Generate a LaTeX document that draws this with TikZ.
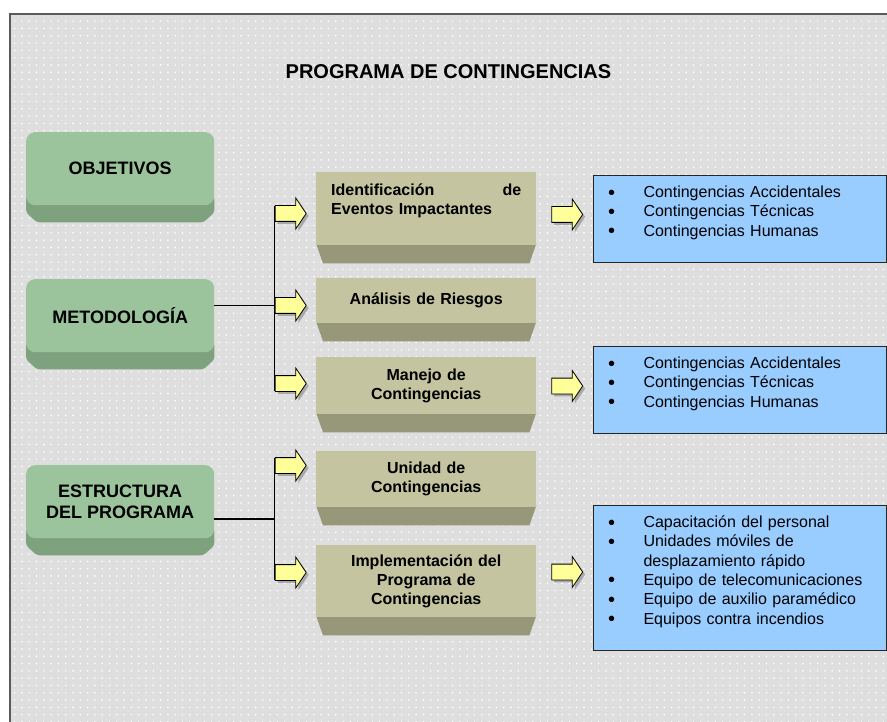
\documentclass[tikz,border=0pt]{standalone}
\usepackage{fontspec}
\setmainfont{Liberation Sans}
\usetikzlibrary{shapes.arrows,shadows,calc,backgrounds,patterns.meta}
\definecolor{greenface}{HTML}{9CC49C}
\definecolor{greenside}{HTML}{7EA27E}
\definecolor{tanface}{HTML}{C4C4A0}
\definecolor{tanside}{HTML}{979779}
\definecolor{arrowyellow}{HTML}{FFFF99}
\definecolor{listblue}{HTML}{99CCFF}
\definecolor{backgray}{HTML}{DEDEDE}
\definecolor{framegray}{HTML}{5A5A5A}
\tikzset{
  topic/.style={rectangle,rounded corners=9pt,fill=greenface,minimum width=188pt,minimum height=73pt,anchor=north west,align=center,font=\fontsize{18}{20.5}\selectfont\bfseries},
  stage/.style={rectangle,fill=tanface,text width=190pt,inner xsep=15pt,anchor=north west,align=center,font=\fontsize{16}{19.3}\selectfont\bfseries},
  pointer/.style={single arrow,draw=black,fill=arrowyellow,line width=0.8pt,minimum height=31pt,single arrow head extend=7.5pt,single arrow tip angle=112,inner xsep=0pt,inner ysep=7.5pt,drop shadow={shadow xshift=2.5pt,shadow yshift=-2.5pt,fill=black!55}},
  itembox/.style={rectangle,draw=black!85,line width=1pt,fill=listblue,text width=264pt,inner xsep=14.5pt,inner ysep=8.5pt,anchor=north west,align=left,font=\fontsize{16}{19.3}\selectfont},
  conn/.style={line width=1.2pt,draw=black}
}
\newcommand{\dotmark}{\raisebox{-1.5pt}{\fontsize{20}{0}\selectfont\textbullet}}
\newcommand{\bulletrows}[1]{\begin{tabular}{@{}l@{\hspace{28.5pt}}l@{}}#1\\[12pt]\end{tabular}}

\begin{document}
\begin{tikzpicture}[x=1pt,y=1pt]
  \useasboundingbox (0,0) rectangle (887,-722);
  \node[font=\fontsize{20}{24}\selectfont\bfseries] (title) at (448.5,-72) {PROGRAMA DE CONTINGENCIAS};
  % green topics
  \node[topic] (obj) at (26,-132) {OBJETIVOS};
  \node[topic] (met) at (26,-279) {METODOLOGÍA};
  \node[topic] (est) at (26,-465) {ESTRUCTURA\\DEL PROGRAMA};
  % stages
  \node[stage,minimum height=73pt,align=left] (t1) at (316,-172) {Identificación\hfill de\\Eventos Impactantes\\\mbox{}};
  \node[stage,minimum height=45pt] (t2) at (316,-278) {Análisis de Riesgos\\[6pt]};
  \node[stage,minimum height=57pt] (t3) at (316,-357) {Manejo de\\Contingencias};
  \node[stage,minimum height=56pt] (t4) at (316,-451) {Unidad de\\Contingencias};
  \node[stage,minimum height=72pt] (t5) at (316,-545) {Implementación del\\Programa de\\Contingencias};
  % arrows
  \node[pointer] (a1) at (288,-213.5) {};
  \node[pointer] (a2) at (288,-305.5) {};
  \node[pointer] (a3) at (288,-383.5) {};
  \node[pointer] (a4) at (288,-465.5) {};
  \node[pointer] (a5) at (288,-572.5) {};
  \node[pointer] (r1) at (564.5,-214.5) {};
  \node[pointer] (r2) at (564.5,-386) {};
  \node[pointer] (r3) at (564.5,-572) {};
  % lists
  \node[itembox] (b1) at (593,-175) {\bulletrows{\dotmark & Contingencias Accidentales\\ \dotmark & Contingencias Técnicas\\ \dotmark & Contingencias Humanas}};
  \node[itembox] (b2) at (593,-346) {\bulletrows{\dotmark & Contingencias Accidentales\\ \dotmark & Contingencias Técnicas\\ \dotmark & Contingencias Humanas}};
  \node[itembox] (b3) at (593,-505) {\bulletrows{\dotmark & Capacitación del personal\\ \dotmark & Unidades móviles de\\ & desplazamiento rápido\\ \dotmark & Equipo de telecomunicaciones\\ \dotmark & Equipo de auxilio paramédico\\ \dotmark & Equipos contra incendios}};
  % connectors
  \draw[conn,shorten <=-7.5pt,shorten >=-7.5pt] (a1.tail) -- (a3.tail);
  \draw[conn] (met.east |- a2.tail) -- (a2.tail);
  \coordinate (j2) at ($(a4.tail)!.5!(a5.tail)$);
  \draw[conn,shorten <=-7.5pt,shorten >=-7.5pt] (a4.tail) -- (a5.tail);
  \draw[conn] (est.east |- j2) -- (j2);
  \begin{scope}[on background layer]
    \fill[backgray] (10,-14) rectangle (887,-722);
    \fill[pattern={Dots[distance=7.3pt,radius=0.9pt]},pattern color=white] (10,-14) rectangle (887,-722);
    \draw[framegray,line width=1.5pt] (10,-722) -- (10,-14) -- (887,-14);
    \foreach \n in {obj,met,est}
      \fill[greenside,rounded corners=3pt] ([yshift=10pt]\n.south west) -- ([yshift=10pt]\n.south east) -- ([yshift=-7pt]\n.south east) -- ([shift={(-11pt,-17pt)}]\n.south east) -- ([shift={(11pt,-17pt)}]\n.south west) -- ([yshift=-7pt]\n.south west) -- cycle;
    \foreach \n in {t1,t2,t3,t4,t5}
      \fill[tanside] ([yshift=2pt]\n.south west) -- ([yshift=2pt]\n.south east) -- ([shift={(-7pt,-18pt)}]\n.south east) -- ([shift={(7pt,-18pt)}]\n.south west) -- cycle;
  \end{scope}
\end{tikzpicture}
\end{document}
